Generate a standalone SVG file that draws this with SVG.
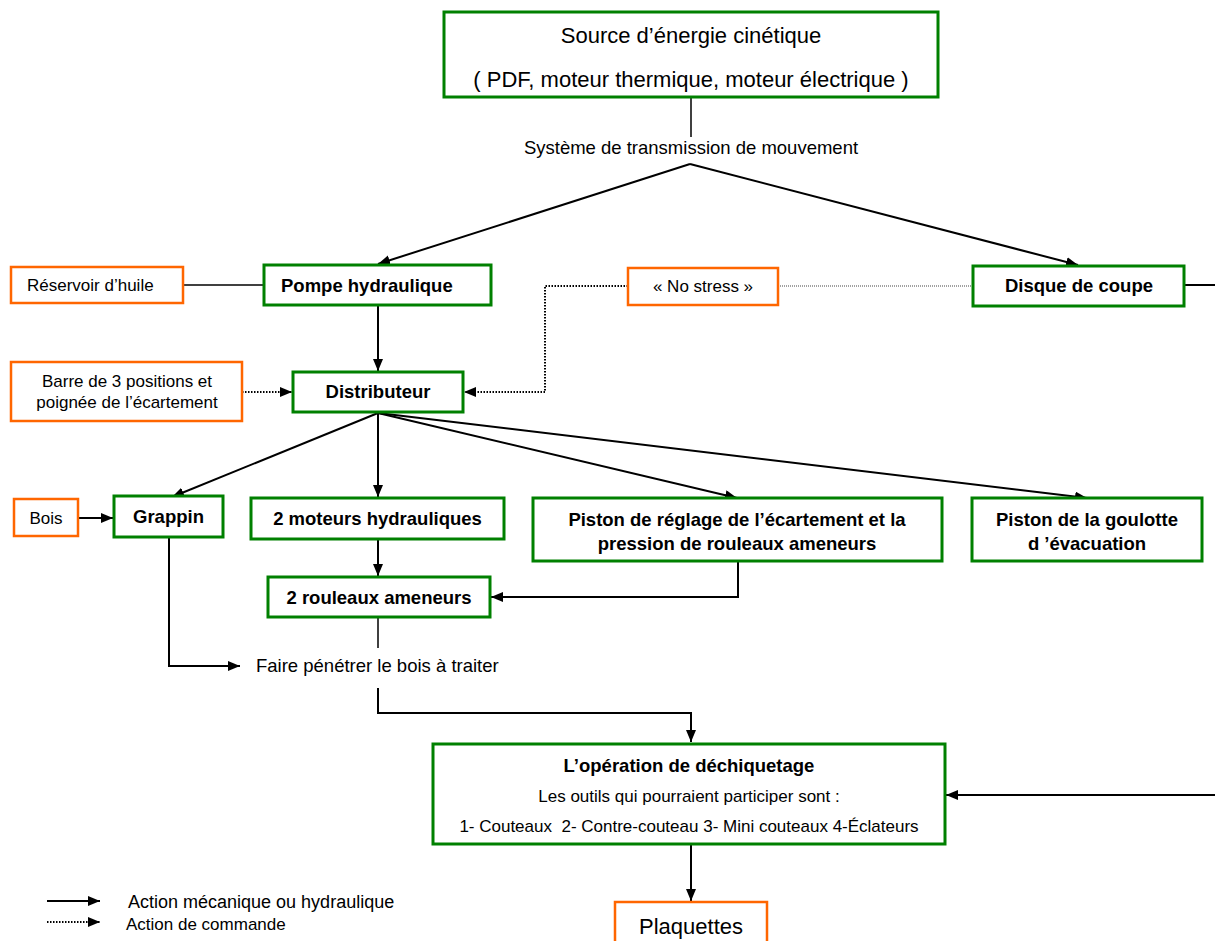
<svg xmlns="http://www.w3.org/2000/svg" width="1215" height="941" viewBox="0 0 1215 941">
<defs>
<marker id="ah" markerUnits="userSpaceOnUse" markerWidth="13" markerHeight="11" refX="12" refY="5" orient="auto"><path d="M0,0 L12,5 L0,10 z" fill="#000"/></marker>
<style>
.g{fill:#fff;stroke:#008000;stroke-width:3}
.o{fill:#fff;stroke:#FF6600;stroke-width:2.5}
text{font-family:"Liberation Sans",Arial,sans-serif;fill:#000}
.b{font-weight:bold;font-size:18.5px;text-anchor:middle}
.r{font-size:17px;text-anchor:middle}
.c{fill:none;stroke:#000;stroke-width:2}
.t{fill:none;stroke:#000;stroke-width:1.5}
.d{fill:none;stroke:#000;stroke-width:2;stroke-dasharray:1.5 1.5}
.dt{fill:none;stroke:#444;stroke-width:1.2;stroke-dasharray:1 1}
</style>
</defs>
<rect width="1215" height="941" fill="#fff"/>
<g id="connectors">
<line class="t" x1="691" y1="97" x2="691" y2="137"/>
<line class="c" x1="690" y1="164" x2="378" y2="264" marker-end="url(#ah)"/>
<line class="c" x1="690" y1="164" x2="1078" y2="265" marker-end="url(#ah)"/>
<line class="t" x1="183" y1="285" x2="264" y2="285"/>
<line class="c" x1="378" y1="305" x2="378" y2="371" marker-end="url(#ah)"/>
<line class="d" x1="242" y1="392" x2="292" y2="392" marker-end="url(#ah)"/>
<polyline class="d" points="628,286 545,286 545,392 464,392" marker-end="url(#ah)"/>
<line class="dt" x1="778" y1="286" x2="973" y2="286"/>
<line class="c" x1="1184" y1="285" x2="1215" y2="285"/>
<line class="c" x1="378" y1="413" x2="172" y2="497" marker-end="url(#ah)"/>
<line class="c" x1="378" y1="413" x2="378" y2="497" marker-end="url(#ah)"/>
<line class="c" x1="378" y1="413" x2="737" y2="498" marker-end="url(#ah)"/>
<line class="c" x1="378" y1="413" x2="1087" y2="498" marker-end="url(#ah)"/>
<line class="c" x1="78" y1="518" x2="113" y2="518" marker-end="url(#ah)"/>
<line class="c" x1="378" y1="539" x2="378" y2="576" marker-end="url(#ah)"/>
<polyline class="c" points="738,561 738,597 491,597" marker-end="url(#ah)"/>
<line class="t" x1="378" y1="618" x2="378" y2="648"/>
<polyline class="c" points="169,537 169,666 240,666" marker-end="url(#ah)"/>
<polyline class="c" points="378,688 378,713 691,713 691,742" marker-end="url(#ah)"/>
<line class="c" x1="1215" y1="795" x2="946" y2="795" marker-end="url(#ah)"/>
<line class="c" x1="691" y1="844" x2="691" y2="901" marker-end="url(#ah)"/>
<line class="c" x1="47" y1="901" x2="100" y2="901" marker-end="url(#ah)"/>
<line class="d" x1="47" y1="922" x2="100" y2="922" marker-end="url(#ah)"/>
</g>
<g id="source">
<rect class="g" x="444" y="12" width="494" height="85"/>
<text x="691" y="43" font-size="22" text-anchor="middle">Source d’énergie cinétique</text>
<text x="691" y="87" font-size="22" text-anchor="middle">( PDF, moteur thermique, moteur électrique )</text>
</g>
<g id="transmission"><text x="691" y="154" font-size="18.5" text-anchor="middle">Système de transmission de mouvement</text></g>
<g id="reservoir"><rect class="o" x="11" y="267" width="172" height="36"/><text x="27" y="291" font-size="17">Réservoir d’huile</text></g>
<g id="pompe"><rect class="g" x="264" y="265" width="227" height="40"/><text class="b" x="281" y="292" style="text-anchor:start">Pompe hydraulique</text></g>
<g id="barre"><rect class="o" x="11" y="362" width="231" height="59"/><text class="r" x="127" y="387">Barre de 3 positions et</text><text class="r" x="127" y="408">poignée de l’écartement</text></g>
<g id="distributeur"><rect class="g" x="293" y="372" width="170" height="40"/><text class="b" x="378" y="398">Distributeur</text></g>
<g id="nostress"><rect class="o" x="628" y="268" width="150" height="37"/><text class="r" x="703" y="292">« No stress »</text></g>
<g id="disque"><rect class="g" x="973" y="266" width="211" height="40"/><text class="b" x="1079" y="292">Disque de coupe</text></g>
<g id="bois"><rect class="o" x="14" y="499" width="64" height="37"/><text class="r" x="46" y="524">Bois</text></g>
<g id="grappin"><rect class="g" x="114" y="496" width="109" height="41"/><text class="b" x="168.5" y="523">Grappin</text></g>
<g id="moteurs"><rect class="g" x="251" y="498" width="253" height="41"/><text class="b" x="377.5" y="525">2 moteurs hydrauliques</text></g>
<g id="piston-reglage"><rect class="g" x="533" y="498" width="409" height="63"/><text class="b" x="737" y="526">Piston de réglage de l’écartement et la</text><text class="b" x="737" y="550">pression de rouleaux ameneurs</text></g>
<g id="piston-goulotte"><rect class="g" x="972" y="498" width="230" height="63"/><text class="b" x="1087" y="526">Piston de la goulotte</text><text class="b" x="1087" y="550">d ’évacuation</text></g>
<g id="rouleaux"><rect class="g" x="268" y="577" width="222" height="40"/><text class="b" x="379" y="604">2 rouleaux ameneurs</text></g>
<g id="faire"><text x="256" y="672" font-size="18.5">Faire pénétrer le bois à traiter</text></g>
<g id="operation"><rect class="g" x="433" y="744" width="512" height="100"/><text class="b" x="689" y="772">L’opération de déchiquetage</text><text class="r" x="689" y="802">Les outils qui pourraient participer sont :</text><text class="r" x="689" y="832" xml:space="preserve">1- Couteaux  2- Contre-couteau 3- Mini couteaux 4-Éclateurs</text></g>
<g id="plaquettes"><rect class="o" x="615" y="902" width="152" height="48"/><text x="691" y="934" font-size="22" text-anchor="middle">Plaquettes</text></g>
<g id="legend"><text x="128" y="908" font-size="18">Action mécanique ou hydraulique</text><text x="126" y="930" font-size="17">Action de commande</text></g>
</svg>
